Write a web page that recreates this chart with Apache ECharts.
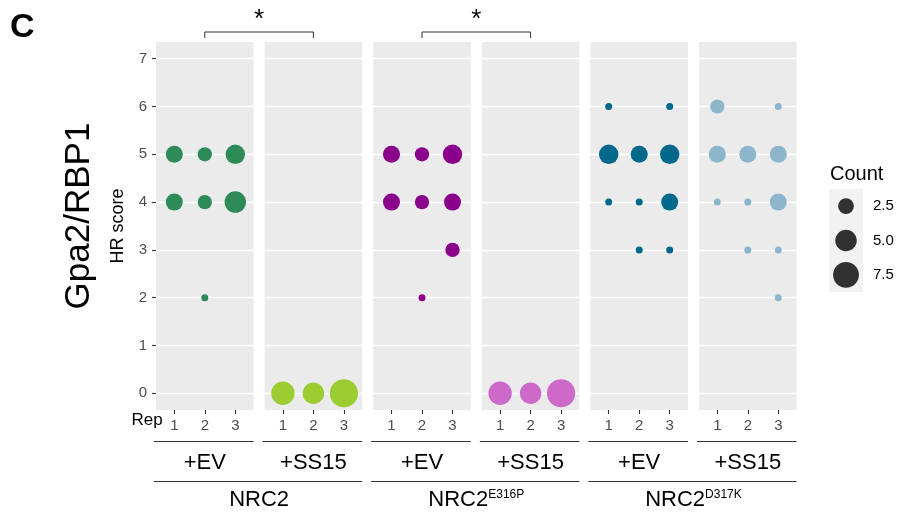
<!DOCTYPE html>
<html>
<head>
<meta charset="utf-8">
<script src="https://cdn.jsdelivr.net/npm/echarts@6/dist/echarts.min.js"></script>
<style>html,body{margin:0;padding:0;background:#fff}#c{width:903px;height:516px}</style>
</head>
<body>
<div id="c"></div>
<script>
// ---------- data ----------
const reps = [1, 2, 3];
const scoreTicks = [0, 1, 2, 3, 4, 5, 6, 7];
const treatments = ['+EV', '+SS15', '+EV', '+SS15', '+EV', '+SS15'];
const groupNames = ['NRC2', 'NRC2{s|E316P}', 'NRC2{s|D317K}'];
// [rep, HR score, count]
const nrc2EV = [[1,5,3],[1,4,3],[2,5,2],[2,4,2],[2,2,1],[3,5,4],[3,4,5]];
const nrc2SS15 = [[1,0,6],[2,0,5],[3,0,9]];
const e316pEV = [[1,5,3],[1,4,3],[2,5,2],[2,4,2],[2,2,1],[3,5,4],[3,4,3],[3,3,2]];
const e316pSS15 = [[1,0,6],[2,0,5],[3,0,9]];
const d317kEV = [[1,6,1],[1,5,4],[1,4,1],[2,5,3],[2,4,1],[2,3,1],[3,6,1],[3,5,4],[3,4,3],[3,3,1]];
const d317kSS15 = [[1,6,2],[1,5,3],[1,4,1],[2,5,3],[2,4,1],[2,3,1],[3,6,1],[3,5,3],[3,4,3],[3,3,1],[3,2,1]];
const legendBreaks = [2.5, 5.0, 7.5];
const panelData = [nrc2EV, nrc2SS15, e316pEV, e316pSS15, d317kEV, d317kSS15];
const panelColors = ['#2E8B57', '#9ACD32', '#8B008B', '#CD69C9', '#00688B', '#8DB6CD'];

// ---------- layout ----------
const FONT = '"Liberation Sans", Arial, Helvetica, sans-serif';
const P_LEFT = 156, P_W = 97.6, P_STEP = 108.6, P_TOP = 42, P_H = 368;
function sizeFor(v) { return v <= 1 ? 7 : 1.8 + 8.8 * Math.sqrt(v); }
function pl(i) { return P_LEFT + i * P_STEP; }
function pc(i) { return pl(i) + P_W / 2; }

const grids = [], xAxes = [], yAxes = [], series = [];
panelData.forEach((d, i) => {
  grids.push({ left: pl(i), top: P_TOP, width: P_W, height: P_H, show: true,
    backgroundColor: '#EBEBEB', borderWidth: 0, containLabel: false });
  xAxes.push({ type: 'value', gridIndex: i, min: 0.4, max: 3.6, position: 'bottom',
    axisLine: { show: false, onZero: false },
    axisTick: { show: true, inside: false, length: 4, lineStyle: { color: '#333', width: 1.1 }, customValues: reps },
    axisLabel: { show: true, customValues: reps, color: '#4D4D4D', fontSize: 15, fontFamily: FONT, margin: 8 },
    splitLine: { show: false } });
  yAxes.push({ type: 'value', gridIndex: i, min: -0.35, max: 7.35, position: 'left',
    name: i === 0 ? 'HR score' : '', nameLocation: 'middle', nameGap: 29, nameRotate: 90,
    nameTextStyle: { color: '#000', fontSize: 18, fontFamily: FONT },
    axisLine: { show: false, onZero: false },
    axisTick: { show: i === 0, inside: false, length: 4, lineStyle: { color: '#333', width: 1.1 }, customValues: scoreTicks },
    axisLabel: { show: i === 0, customValues: scoreTicks, color: '#4D4D4D', fontSize: 15, fontFamily: FONT, margin: 9 },
    splitLine: { show: true, lineStyle: { color: '#FFFFFF', width: 1.3 } } });
  series.push({ type: 'scatter', xAxisIndex: i, yAxisIndex: i, data: d,
    symbolSize: v => sizeFor(v[2]), itemStyle: { color: panelColors[i], opacity: 1 },
    silent: true, animation: false });
});

// legend (Count) as a small panel
const LG = 6;
grids.push({ left: 829, top: 189, width: 34, height: 103, show: true, backgroundColor: '#F2F2F2', borderWidth: 0 });
xAxes.push({ type: 'value', gridIndex: LG, min: 0, max: 1, show: false });
yAxes.push({ type: 'category', gridIndex: LG, data: legendBreaks.map(v => v.toFixed(1)), inverse: true,
  position: 'right', axisLine: { show: false, onZero: false }, axisTick: { show: false }, splitLine: { show: false },
  axisLabel: { color: '#000', fontSize: 15, fontFamily: FONT, margin: 10 } });
series.push({ type: 'scatter', xAxisIndex: LG, yAxisIndex: LG,
  data: legendBreaks.map((v, k) => [0.5, k, v]), symbolSize: v => sizeFor(v[2]),
  itemStyle: { color: '#000' }, silent: true, animation: false });

// annotations
const graphic = [];
graphic.push({ type: 'text', style: { text: 'C', x: 10, y: 11, font: 'bold 34px ' + FONT, fill: '#000' } });
graphic.push({ type: 'text', rotation: Math.PI / 2, x: 79, y: 216,
  style: { text: 'Gpa2/RBP1', x: 0, y: 0, font: '35px ' + FONT, fill: '#000', align: 'center', verticalAlign: 'middle' } });
graphic.push({ type: 'text', style: { text: 'Rep', x: 147, y: 420, font: '17px ' + FONT, fill: '#000', align: 'center', verticalAlign: 'middle' } });
graphic.push({ type: 'text', style: { text: 'Count', x: 830, y: 174, font: '20px ' + FONT, fill: '#000', align: 'left', verticalAlign: 'middle' } });
// significance brackets
[0, 2].forEach(i => {
  graphic.push({ type: 'polyline', shape: { points: [[pc(i), 38], [pc(i), 32], [pc(i + 1), 32], [pc(i + 1), 38]] },
    style: { stroke: '#333', lineWidth: 1, fill: null } });
  graphic.push({ type: 'text', style: { text: '*', x: (pc(i) + pc(i + 1)) / 2, y: 20,
    font: '26px ' + FONT, fill: '#000', align: 'center', verticalAlign: 'middle' } });
});
// treatment strips
treatments.forEach((t, i) => {
  graphic.push({ type: 'line', shape: { x1: pl(i) - 2, y1: 441.5, x2: pl(i) + P_W, y2: 441.5 },
    style: { stroke: '#333', lineWidth: 1 } });
  graphic.push({ type: 'text', style: { text: t, x: pc(i), y: 463, font: '22px ' + FONT, fill: '#000', align: 'center', verticalAlign: 'middle' } });
});
groupNames.forEach((g, k) => {
  const a = 2 * k, b = 2 * k + 1;
  graphic.push({ type: 'line', shape: { x1: pl(a) - 2, y1: 481.5, x2: pl(b) + P_W, y2: 481.5 },
    style: { stroke: '#333', lineWidth: 1 } });
  graphic.push({ type: 'text', style: { text: g, x: (pl(a) + pl(b) + P_W) / 2, y: 500,
    font: '22px ' + FONT, fill: '#000', align: 'center', verticalAlign: 'middle',
    rich: { s: { fontSize: 12, fontFamily: FONT, verticalAlign: 'top', fill: '#000', padding: [0, 0, 4, 0] } } } });
});

const chart = echarts.init(document.getElementById('c'), null, { renderer: 'canvas' });
chart.setOption({ animation: false, backgroundColor: '#fff', textStyle: { fontFamily: FONT },
  grid: grids, xAxis: xAxes, yAxis: yAxes, series: series, graphic: graphic });
</script>
</body>
</html>
